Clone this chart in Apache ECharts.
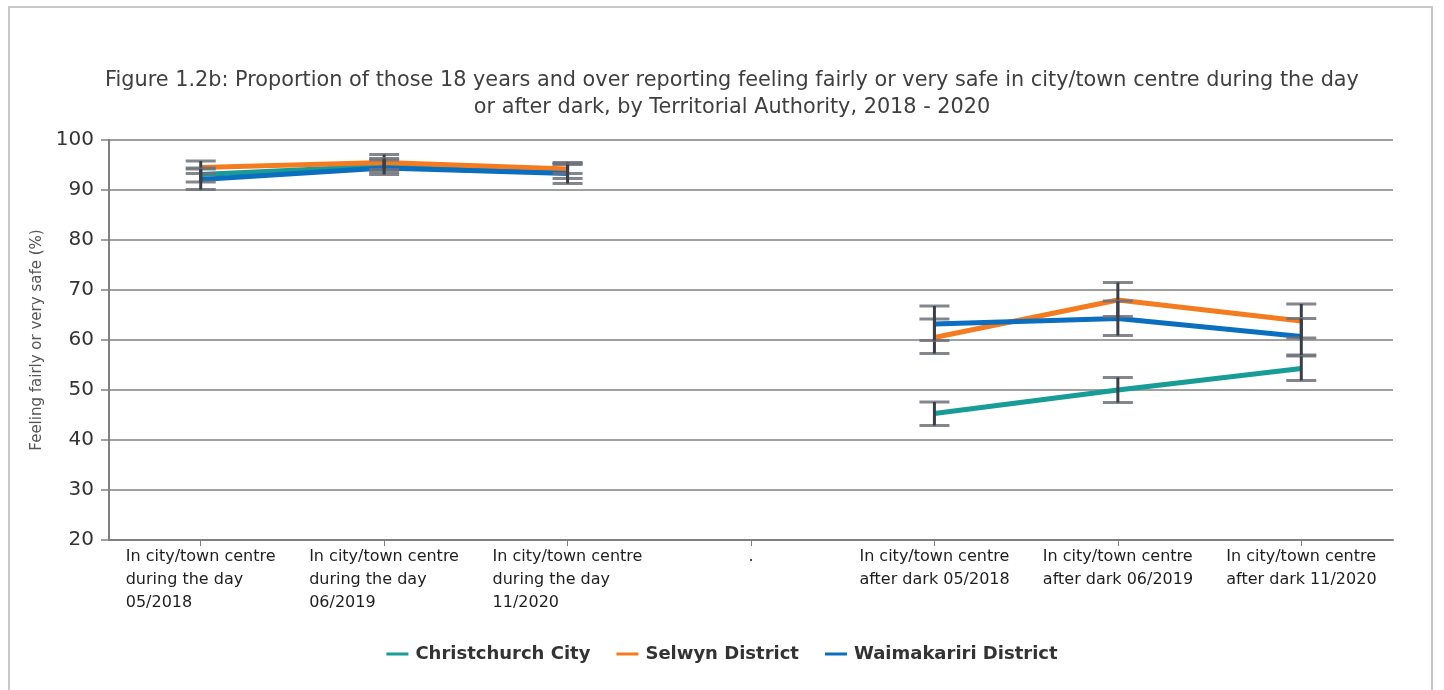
<!DOCTYPE html>
<html>
<head>
<meta charset="utf-8">
<title>Figure 1.2b</title>
<script src="https://cdn.jsdelivr.net/npm/echarts@6/dist/echarts.min.js"></script>
<style>
  html, body { margin: 0; padding: 0; background: #fff; }
  #chart { width: 1444px; height: 690px; }
</style>
</head>
<body>
<div id="chart"></div>
<script>
var categories = [
    'In city/town centre\nduring the day\n05/2018',
    'In city/town centre\nduring the day\n06/2019',
    'In city/town centre\nduring the day\n11/2020',
    '.',
    'In city/town centre\nafter dark 05/2018',
    'In city/town centre\nafter dark 06/2019',
    'In city/town centre\nafter dark 11/2020'
];
var yTicks = [20, 30, 40, 50, 60, 70, 80, 90, 100];

var seriesNames = ['Christchurch City', 'Selwyn District', 'Waimakariri District'];
var seriesColors = ['#179c97', '#f47b20', '#0b6ebf'];

var christchurch = [93.1, 94.8, 93.8, null, 45.3, 50.0, 54.3];
var selwyn = [94.5, 95.5, 94.2, null, 60.5, 68.0, 63.8];
var waimakariri = [92.1, 94.4, 93.3, null, 63.2, 64.3, 60.7];

var christchurchLow = [91.6, 93.6, 92.3, null, 42.9, 47.5, 51.9];
var christchurchHigh = [94.4, 96.0, 95.3, null, 47.6, 52.5, 56.8];
var selwynLow = [93.3, 94.1, 93.3, null, 57.3, 64.7, 60.4];
var selwynHigh = [95.8, 97.1, 95.5, null, 64.2, 71.5, 67.2];
var waimakaririLow = [90.1, 93.1, 91.3, null, 59.9, 60.9, 57.0];
var waimakaririHigh = [94.2, 96.3, 95.1, null, 66.8, 67.8, 64.3];

var values = [christchurch, selwyn, waimakariri];
var lows = [christchurchLow, selwynLow, waimakaririLow];
var highs = [christchurchHigh, selwynHigh, waimakaririHigh];

var FONT = 'DejaVu Sans, Verdana, sans-serif';

var chartDom = document.getElementById('chart');
var myChart = echarts.init(chartDom);

function errorData(low, high) {
    var out = [];
    for (var i = 0; i < low.length; i++) {
        if (low[i] != null) out.push([i, low[i], high[i]]);
    }
    return out;
}

function renderErrorBar(params, api) {
    var top = api.coord([api.value(0), api.value(2)]);
    var bottom = api.coord([api.value(0), api.value(1)]);
    var half = 15;
    return {
        type: 'group',
        children: [
            {
                type: 'line',
                shape: { x1: top[0] - half, y1: top[1], x2: top[0] + half, y2: top[1] },
                style: { stroke: '#6e7179', lineWidth: 3, opacity: 0.85 }
            },
            {
                type: 'line',
                shape: { x1: bottom[0] - half, y1: bottom[1], x2: bottom[0] + half, y2: bottom[1] },
                style: { stroke: '#6e7179', lineWidth: 3, opacity: 0.85 }
            },
            {
                type: 'line',
                shape: { x1: top[0], y1: top[1], x2: bottom[0], y2: bottom[1] },
                style: { stroke: '#3a3e48', lineWidth: 3 }
            }
        ]
    };
}

var series = [];
for (var s = 0; s < seriesNames.length; s++) {
    series.push({
        name: seriesNames[s],
        type: 'line',
        data: values[s],
        symbol: 'none',
        connectNulls: false,
        lineStyle: { width: 5, color: seriesColors[s] },
        itemStyle: { color: seriesColors[s] },
        z: 2
    });
}
for (var e = 0; e < seriesNames.length; e++) {
    series.push({
        name: seriesNames[e] + ' error',
        type: 'custom',
        data: errorData(lows[e], highs[e]),
        renderItem: renderErrorBar,
        encode: { x: 0, y: [1, 2] },
        z: 5,
        silent: true
    });
}

var option = {
    backgroundColor: '#fff',
    animation: false,
    title: {
        text: 'Figure 1.2b: Proportion of those 18 years and over reporting feeling fairly or very safe in city/town centre during the day\nor after dark, by Territorial Authority, 2018 - 2020',
        left: 727,
        top: 62,
        textAlign: 'center',
        textStyle: {
            fontFamily: FONT,
            fontSize: 20.8,
            fontWeight: 'normal',
            color: '#3f3f3f',
            lineHeight: 27
        }
    },
    legend: {
        data: seriesNames,
        bottom: 22,
        left: 'center',
        icon: 'rect',
        itemWidth: 22,
        itemHeight: 3,
        itemGap: 26,
        textStyle: {
            fontFamily: FONT,
            fontSize: 18,
            fontWeight: 'bold',
            color: '#333',
            padding: [0, 0, 0, 2]
        }
    },
    grid: {
        left: 109,
        right: 51,
        top: 140,
        bottom: 150,
        containLabel: false
    },
    xAxis: {
        type: 'category',
        data: categories,
        boundaryGap: true,
        axisLine: { show: true, lineStyle: { color: '#808080', width: 2 } },
        axisTick: { show: true, alignWithLabel: true, length: 6, lineStyle: { color: '#808080', width: 1 } },
        axisLabel: {
            interval: 0,
            margin: 5,
            formatter: function (val) {
                if (val === '.') return '{b|.}';
                return val.split('\n').map(function (line) {
                    return '{a|' + line + '}';
                }).join('\n');
            },
            rich: {
                a: {
                    width: 150,
                    align: 'left',
                    fontFamily: FONT,
                    fontSize: 16,
                    lineHeight: 23,
                    color: '#1e1e1e'
                },
                b: {
                    width: 150,
                    align: 'center',
                    fontFamily: FONT,
                    fontSize: 16,
                    lineHeight: 23,
                    color: '#1e1e1e'
                }
            }
        }
    },
    yAxis: {
        type: 'value',
        min: yTicks[0],
        max: yTicks[yTicks.length - 1],
        interval: 10,
        name: 'Feeling fairly or very safe (%)',
        nameLocation: 'middle',
        nameGap: 59,
        nameTextStyle: {
            fontFamily: FONT,
            fontSize: 15,
            color: '#555'
        },
        axisLine: { show: true, lineStyle: { color: '#808080', width: 2 } },
        axisTick: { show: true, inside: false, length: 8, lineStyle: { color: '#808080', width: 1.5 } },
        axisLabel: {
            margin: 15,
            fontFamily: FONT,
            fontSize: 20,
            color: '#333'
        },
        splitLine: { show: true, lineStyle: { color: '#808080', width: 1.5 } }
    },
    graphic: [
        {
            type: 'rect',
            shape: { x: 9, y: 7, width: 1423, height: 690 },
            style: { fill: 'none', stroke: '#c8c8c8', lineWidth: 2 },
            silent: true,
            z: -1
        }
    ],
    series: series
};

myChart.setOption(option);

window.addEventListener('resize', function () {
    myChart.resize();
});
</script>
</body>
</html>
